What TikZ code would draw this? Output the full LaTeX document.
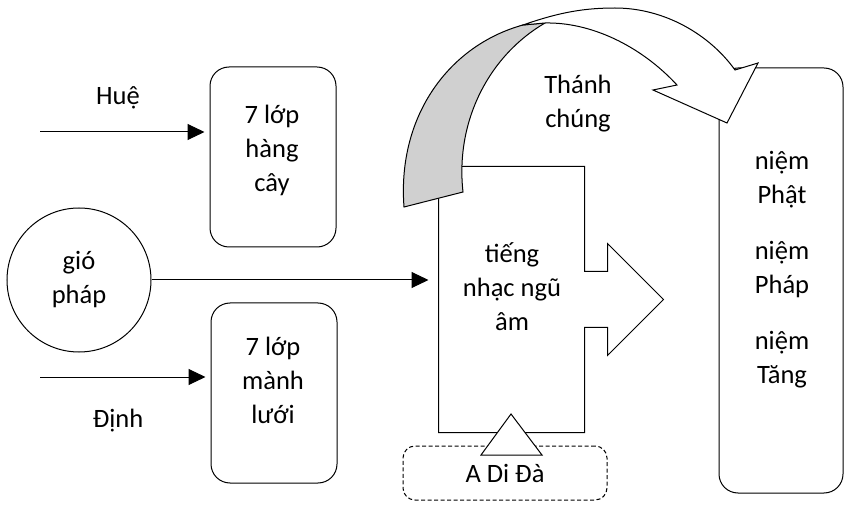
\documentclass[tikz,border=0pt]{standalone}
\usepackage{fontspec}
\setmainfont{Carlito}
\usetikzlibrary{arrows.meta}

\definecolor{shade}{RGB}{208,208,208}
\tikzset{
  box/.style={draw, rounded corners=19pt, minimum width=126pt, minimum height=180pt, inner sep=0pt},
  txt/.style={align=center, font=\fontsize{26.5}{34}\selectfont},
  arr/.style={-{Triangle[length=17pt,width=16pt]}, shorten >=5pt},
}

\begin{document}
\begin{tikzpicture}[x=1pt, y=-1pt, line width=1pt]
 \useasboundingbox (0, 0) rectangle (844, 505);

 % left column
 \node[txt] (hue)  at (118, 98)  {Huệ};
 \node[txt] (dinh) at (118, 421) {Định};
 \coordinate (hue0)  at (40, 132);
 \coordinate (dinh0) at (40, 377);
 \node[box] (cay)  at (273, 157) {};
 \node[box] (luoi) at (274, 393) {};
 \node[txt] (cayt)  at (272, 150) {7 lớp\\hàng\\cây};
 \node[txt] (luoit) at (273, 380) {7 lớp\\mành\\lưới};
 \node[txt, draw, circle, minimum size=144pt, inner sep=0pt] (gio) at (79, 280) {gió\\pháp};

 % middle block with its arrow
 \node[minimum width=145pt, minimum height=265pt, inner sep=0pt] (nhac) at (511.5, 299.5) {};
 \draw[fill=white] (nhac.south west) -- (nhac.north west) -- (nhac.north east)
   -- ++(0, 105) -- ++(23, 0) -- ++(0, -28) -- ++(56, 56) -- ++(-56, 56)
   -- ++(0, -28) -- ++(-23, 0) -- (nhac.south east) -- cycle;
 \node[txt] (nhact) at (512, 287) {tiếng\\nhạc ngũ\\âm};
 \node[txt, draw, dash pattern=on 4pt off 2.5pt, rounded corners=12pt,
       minimum width=204pt, minimum height=54pt, inner sep=0pt] (adida) at (505, 473) {A Di Đà};
 \draw[fill=white] (481, 455) -- (511, 414) -- (542, 455) -- cycle;

 % right column
 \node[draw, rounded corners=19pt, minimum width=124pt, minimum height=425pt, inner sep=0pt] (niem) at (781, 280.5) {};
 \node[txt] (niemt) at (782, 270) {niệm\\Phật\\[22pt]niệm\\Pháp\\[22pt]niệm\\Tăng};

 \path[arr] (hue0)  edge (cay.west |- hue0);
 \path[arr] (dinh0) edge (luoi.west |- dinh0);
 \path[arr, shorten >=10pt] (gio) edge (nhac.west |- gio);

 % curved arrow over the top
 \draw[fill=shade] (404, 207) .. controls (397, 115) and (450, 45) .. (523, 25)
   -- (545, 23) .. controls (490, 55) and (455, 120) .. (463, 192) -- cycle;
 \draw[fill=white] (523, 25) .. controls (560, 12) and (585, 8) .. (615, 8)
   .. controls (665, 8) and (710, 35) .. (735, 70) -- (758, 63) -- (727, 123)
   -- (653, 90) -- (677, 85) .. controls (640, 45) and (590, 22) .. (545, 23) -- cycle;
 \node[txt] (thanh) at (578, 104) {Thánh\\chúng};
\end{tikzpicture}
\end{document}
